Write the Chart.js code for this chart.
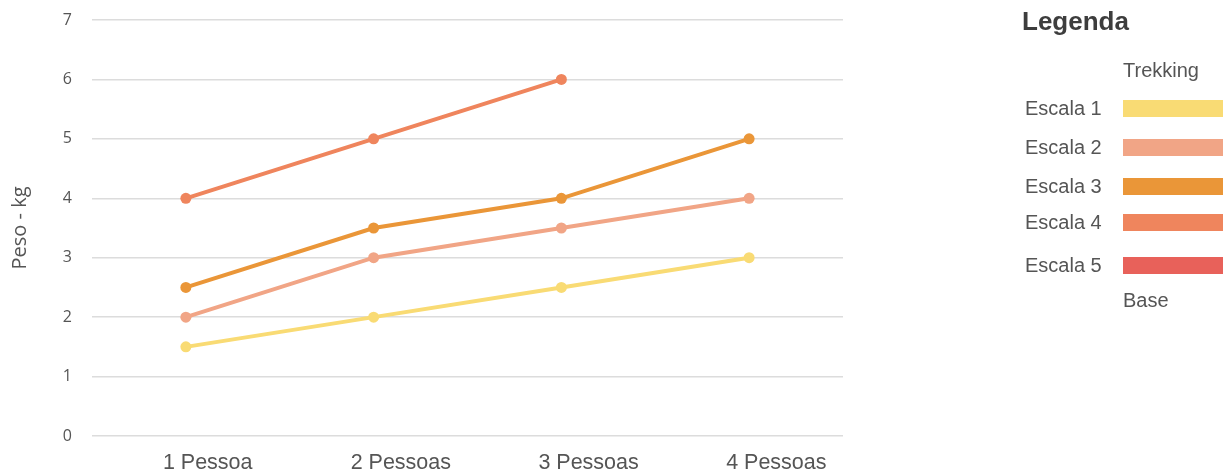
<!DOCTYPE html>
<html>
<head>
<meta charset="utf-8">
<script src="https://cdn.jsdelivr.net/npm/chart.js@4/dist/chart.umd.min.js"></script>
<style>
  body { margin: 0; background: #fff; }
  #wrap { position: relative; width: 1228px; height: 473px; }
  #legend { position: absolute; left: 0; top: 0; font-family: "Liberation Sans", Arial, sans-serif; color: #444; }
  #legend div { position: absolute; white-space: nowrap; line-height: 1; }
  .lbl { font-size: 20px; color: #555; }
  .bar { width: 100px; height: 17px; }
</style>
</head>
<body>
<div id="wrap">
  <canvas id="chart" width="1228" height="473"></canvas>
  <div id="legend"></div>
</div>
<script>
// categories and series
var categories = ['1 Pessoa', '2 Pessoas', '3 Pessoas', '4 Pessoas'];
var seriesNames = ['Escala 1', 'Escala 2', 'Escala 3', 'Escala 4', 'Escala 5'];
var escala1 = [1.5, 2, 2.5, 3];
var escala2 = [2, 3, 3.5, 4];
var escala3 = [2.5, 3.5, 4, 5];
var escala4 = [4, 5, 6, null];
var escala5 = [null, null, null, null];
var colors = ['#F9DB74', '#F1A586', '#EA9638', '#EF855D', '#E8615A'];
var yTicks = [0, 1, 2, 3, 4, 5, 6, 7];

var seriesData = [escala1, escala2, escala3, escala4, escala5];

var datasets = seriesData.map(function (d, i) {
  return {
    label: seriesNames[i],
    data: d,
    borderColor: colors[i],
    backgroundColor: colors[i],
    borderWidth: 4,
    pointRadius: 5.5,
    pointHoverRadius: 5.5,
    pointBorderWidth: 0,
    spanGaps: false,
    tension: 0,
    order: 5 - i   // later scales drawn on top
  };
});

new Chart(document.getElementById('chart').getContext('2d'), {
  type: 'line',
  data: { labels: categories, datasets: datasets },
  options: {
    responsive: false,
    animation: false,
    layout: { padding: { left: 8, right: 385, top: 20, bottom: 0 } },
    plugins: { legend: { display: false }, tooltip: { enabled: false } },
    scales: {
      x: {
        offset: true,
        grid: { display: false },
        border: { display: false },
        ticks: {
          color: '#555',
          font: { family: '"Liberation Sans", Arial, sans-serif', size: 21.5 },
          padding: 6, maxRotation: 0,
          align: 'start', labelOffset: -23   // labels start a little left of the point
        },
        afterFit: function (scale) {
          scale.height = 37;
          scale.paddingLeft = 0; scale.paddingRight = 0;
        }
      },
      y: {
        min: 0,
        max: 7,
        afterBuildTicks: function (scale) { scale.ticks = yTicks.map(function (v) { return { value: v }; }); },
        grid: { color: '#dcdcdc', lineWidth: 1.5, drawTicks: false },
        border: { display: false },
        ticks: { color: '#555', font: { family: '"Open Sans", sans-serif', size: 16 }, padding: 20 },
        title: { display: true, text: 'Peso - kg', color: '#555', font: { family: '"Open Sans", sans-serif', size: 20 }, padding: 0 },
        afterFit: function (scale) {
          scale.width = 84;
          scale.paddingTop = 0; scale.paddingBottom = 0;
        }
      }
    }
  }
});

// custom legend on the right
var legend = document.getElementById('legend');
function add(html, cls, left, top, style) {
  var el = document.createElement('div');
  el.className = cls || '';
  el.innerHTML = html;
  el.style.left = left + 'px';
  el.style.top = top + 'px';
  if (style) el.style.cssText += style;
  legend.appendChild(el);
}
add('Legenda', '', 1022, 8, 'font-size:26px;font-weight:bold;color:#3d3d3d;');
add('Trekking', 'lbl', 1123, 60);
add('Base', 'lbl', 1123, 290);
var rowY = [108, 147, 186, 222, 265];
seriesNames.forEach(function (name, i) {
  add(name, 'lbl', 1025, rowY[i] - 10);
  add('', 'bar', 1123, rowY[i] - 8, 'background:' + colors[i] + ';');
});
</script>
</body>
</html>
